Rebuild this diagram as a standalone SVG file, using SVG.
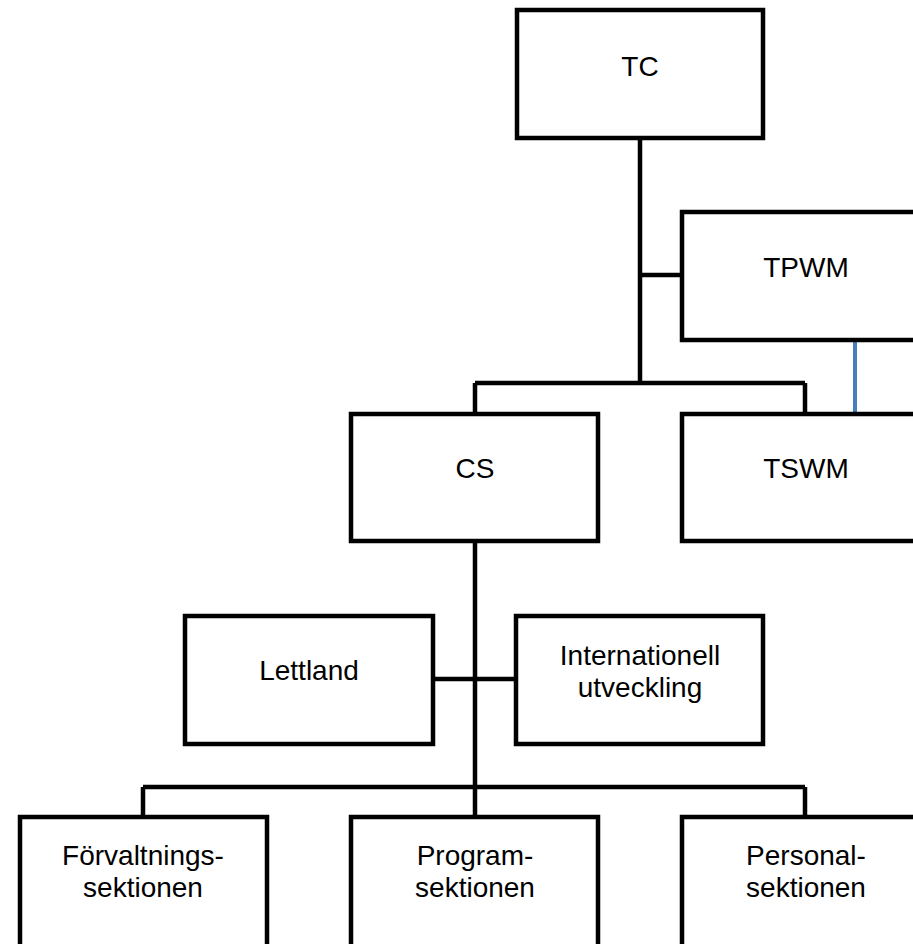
<svg xmlns="http://www.w3.org/2000/svg" width="913" height="944" viewBox="0 0 913 944">
<style>
.box{fill:#fff;stroke:#000;stroke-width:4.5}
.ln{fill:none;stroke:#000;stroke-width:4.5}
.blue{fill:none;stroke:#4a7ebb;stroke-width:4}
text{font-family:"Liberation Sans",Arial,sans-serif;font-size:28px;fill:#000;text-anchor:middle}
</style>
<rect width="913" height="944" fill="#fff"/>
<g id="connectors">
<path class="ln" d="M640,138V383M640,275H682M475,383H805M475,383V414M805,383V414"/>
<path class="blue" d="M855,340V413"/>
<path class="ln" d="M475,541V817M433,679H516M143,787H805M143,787V817M805,787V817"/>
</g>
<g id="tc"><rect class="box" x="517" y="10" width="246" height="128"/><text x="640" y="76">TC</text></g>
<g id="tpwm"><rect class="box" x="682" y="212" width="247" height="128"/><text x="806" y="277">TPWM</text></g>
<g id="cs"><rect class="box" x="351" y="414" width="247" height="127"/><text x="475" y="478">CS</text></g>
<g id="tswm"><rect class="box" x="682" y="414" width="247" height="127"/><text x="806" y="478">TSWM</text></g>
<g id="lettland"><rect class="box" x="185" y="616" width="248" height="128"/><text x="309" y="680">Lettland</text></g>
<g id="internationell"><rect class="box" x="516" y="616" width="247" height="128"/><text x="640" y="665">Internationell</text><text x="640" y="697">utveckling</text></g>
<g id="forvaltning"><rect class="box" x="20" y="817" width="247" height="140"/><text x="143" y="865">Förvaltnings-</text><text x="143" y="897">sektionen</text></g>
<g id="program"><rect class="box" x="351" y="817" width="247" height="140"/><text x="475" y="865">Program-</text><text x="475" y="897">sektionen</text></g>
<g id="personal"><rect class="box" x="682" y="817" width="247" height="140"/><text x="806" y="865">Personal-</text><text x="806" y="897">sektionen</text></g>
</svg>
